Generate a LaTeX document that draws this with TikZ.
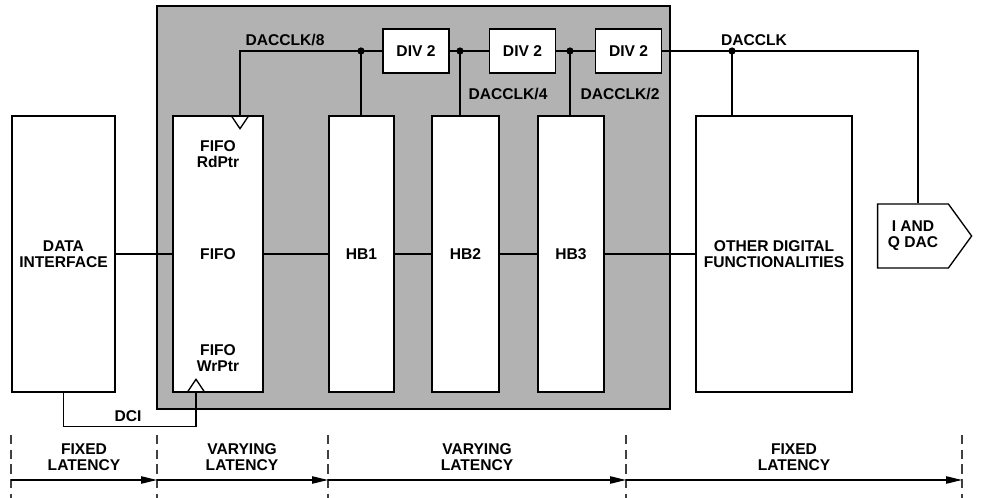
\documentclass[tikz,border=0pt]{standalone}
\usepackage{fontspec}
\setmainfont{Liberation Sans}
\usetikzlibrary{positioning,arrows.meta,shapes.symbols}
\tikzset{
  sigline/.style={line width=1pt},
  blockbox/.style={draw, line width=1pt, fill=white, inner sep=0pt, align=center},
  tallbox/.style={blockbox, minimum height=207pt},
  divbox/.style={blockbox, minimum width=49.5pt, minimum height=33pt},
  corebox/.style={draw, line width=1pt, fill=black!30, inner sep=0pt},
  dacbox/.style={draw, line width=1pt, fill=white, signal, signal to=east, signal pointer angle=108, minimum width=70.5pt, minimum height=48pt, inner sep=0pt, align=center},
  junction/.style={circle, fill, inner sep=0pt, minimum size=5.5pt},
  boundary/.style={line width=1pt, black!75, dash pattern=on 7pt off 4pt},
  latarrow/.style={line width=1pt, -{Triangle[length=12pt,width=5.5pt]}},
  txt/.style={align=center, inner sep=0pt}
}
\begin{document}
\begin{tikzpicture}[x=0.75pt, y=-0.75pt, every node/.style={font=\bfseries\fontsize{11.7}{12}\selectfont}]
  \useasboundingbox (0,0) rectangle (992,498);
  % shaded core
  \node[corebox, minimum width=384.75pt, minimum height=302.25pt] (core) at (413.5,207.5) {};

  \node[tallbox, minimum width=77.25pt] (di) at (63.5,254) {DATA\\INTERFACE};
  \node[tallbox, minimum width=67.5pt] (fifo) at (218,254) {FIFO};
  \node[tallbox, minimum width=48.75pt] (hb1) at (361.5,254) {HB1};
  \node[tallbox, minimum width=50.25pt] (hb2) at (465.5,254) {HB2};
  \node[tallbox, minimum width=49.5pt] (hb3) at (571,254) {HB3};
  \node[tallbox, minimum width=117pt] (od) at (774,254) {OTHER DIGITAL\\FUNCTIONALITIES};
  \node[divbox] (div1) at (416,51) {DIV 2};
  \node[divbox] (div2) at (522.5,51) {DIV 2};
  \node[divbox] (div3) at (628.5,51) {DIV 2};
  \node[dacbox] (dac) at (913,236) {I AND\\Q DAC};

  \node[txt] (rdptr) at (218,154) {FIFO\\RdPtr};
  \node[txt] (wrptr) at (218,358) {FIFO\\WrPtr};

  % data path
  \draw[sigline] (di) -- (fifo) (fifo) -- (hb1) (hb1) -- (hb2) (hb2) -- (hb3) (hb3) -- (od);

  % clock tree
  \coordinate (rdclk) at ([xshift=16.5pt]fifo.north);
  \coordinate (wrclk) at ([xshift=-16.5pt]fifo.south);
  \coordinate (clk8) at (361,51);
  \coordinate (clk4) at (460,51);
  \coordinate (clk2) at (570,51);
  \coordinate (clk1) at (732,51);
  \draw[sigline] (rdclk) |- (div1.west);
  \draw[sigline] (div1) -- (div2) (div2) -- (div3);
  \draw[sigline] (div3) -| ([xshift=3.75pt]dac.north);
  \draw[sigline] (clk8) -- (clk8 |- hb1.north);
  \draw[sigline] (clk4) -- (clk4 |- hb2.north);
  \draw[sigline] (clk2) -- (clk2 |- hb3.north);
  \draw[sigline] (clk1) -- (clk1 |- od.north);
  \foreach \j in {clk8,clk4,clk2,clk1}
    \fill (\j) circle (2.7pt);
  \draw[sigline] ([xshift=-6.75pt]rdclk) -- ([yshift=-10pt]rdclk) -- ([xshift=6.75pt]rdclk);
  \draw[sigline] (di.south) -- ++(0,34) -| (wrclk);
  \draw[sigline] ([xshift=-6.75pt]wrclk) -- ([yshift=10pt]wrclk) -- ([xshift=6.75pt]wrclk);

  \node[txt] (l8) at (285,40) {DACCLK/8};
  \node[txt] (l4) at (508,94) {DACCLK/4};
  \node[txt] (l2) at (620,94) {DACCLK/2};
  \node[txt] (l1) at (754,40) {DACCLK};
  \node[txt] (dci) at (128,416) {DCI};

  % latency bands
  \foreach \xb [count=\i] in {11,157,328,626,962} {
    \draw[boundary] (\xb,435) -- (\xb,498);
    \coordinate (b\i) at (\xb,480);
  }
  \foreach \a/\b in {1/2,2/3,3/4,4/5}
    \draw[latarrow] (b\a) -- (b\b);
  \node[txt] (lat1) at (84,457) {FIXED\\LATENCY};
  \node[txt] (lat2) at (242,457) {VARYING\\LATENCY};
  \node[txt] (lat3) at (477,457) {VARYING\\LATENCY};
  \node[txt] (lat4) at (794,457) {FIXED\\LATENCY};
\end{tikzpicture}
\end{document}
